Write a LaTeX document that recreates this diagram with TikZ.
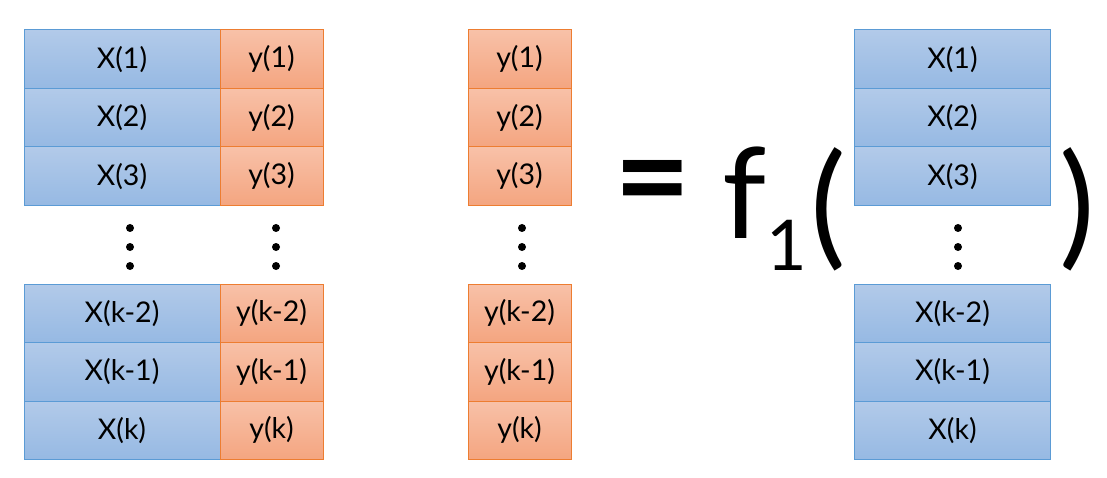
\documentclass[tikz,border=0pt]{standalone}
\usepackage{fontspec}
\setmainfont{Lato}
\usetikzlibrary{positioning}

\definecolor{xtop}{RGB}{178,202,233}
\definecolor{xbot}{RGB}{150,185,227}
\definecolor{xline}{RGB}{91,155,213}
\definecolor{ytop}{RGB}{248,193,168}
\definecolor{ybot}{RGB}{244,165,128}
\definecolor{yline}{RGB}{237,125,49}

\tikzset{
  xcell/.style={draw=xline, line width=1pt, top color=xtop, bottom color=xbot,
    minimum width=196pt, minimum height=58.5pt, inner sep=0pt,
    font=\fontsize{28.5}{33}\selectfont},
  ycell/.style={xcell, draw=yline, top color=ytop, bottom color=ybot,
    minimum width=103pt},
  bigsym/.style={inner sep=0pt, font=\fontsize{126}{126}\selectfont}
}

\begin{document}
\begin{tikzpicture}[x=1pt, y=-1pt]
  \useasboundingbox (0,0) rectangle (1107,478);
  % table rows
  \foreach \r/\lab/\yc in {1/1/59.25, 2/2/117.75, 3/3/176.25,
                           4/k-2/313.25, 5/k-1/371.75, 6/k/430.25} {
    \node[xcell] (lx\r) at (122,\yc) {X(\lab)};
    \node[ycell] (ly\r) at (271.5,\yc) {y(\lab)};
    \node[ycell] (my\r) at (519.5,\yc) {y(\lab)};
    \node[xcell] (rx\r) at (952.5,\yc) {X(\lab)};
  }
  % vertical dots
  \foreach \x in {130,276,522,958} {
    \foreach \y in {228,247,266} {
      \fill (\x,\y) circle (4pt);
    }
  }
  % = f_1( ... )
  \node[bigsym, font=\fontsize{132}{132}\bfseries] (eqsign) at (652.5,191) {=};
  \node[bigsym] (fname) at (745,193) {f};
  \node[bigsym, font=\fontsize{70}{70}\selectfont] (fsub) at (787,245) {1};
  \node[bigsym, font=\fontsize{134}{134}\selectfont] (lparen) at (828,209) {(};
  \node[bigsym, font=\fontsize{134}{134}\selectfont] (rparen) at (1077,209) {)};
\end{tikzpicture}
\end{document}
